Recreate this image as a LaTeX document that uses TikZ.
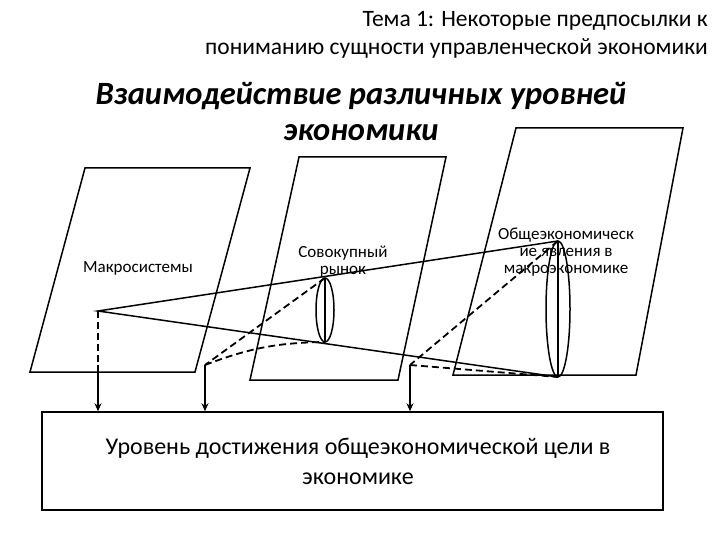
\documentclass[tikz,border=0pt]{standalone}
\usepackage{fontspec}
\usetikzlibrary{arrows.meta}
\setmainfont{Carlito}
\begin{document}
\begin{tikzpicture}[x=1pt,y=-1pt,
  plane/.style={draw,line width=1.5pt,fill=white},
  lbl/.style={font=\fontsize{17}{17}\selectfont,align=center,inner sep=0},
  dsh/.style={line width=1.8pt,dash pattern=on 7pt off 4pt},
  arr/.style={line width=1.6pt,-{Stealth[length=8pt,width=7pt]}},
  ln/.style={line width=1.5pt}]
\useasboundingbox (0,0) rectangle (720,540);
\node[anchor=east,align=right,font=\fontsize{23.5}{28}\selectfont,inner sep=0] (t) at (708,35) {Тема 1: Некоторые предпосылки к\\пониманию сущности управленческой экономики};
\node[align=center,font=\fontsize{32.5}{36}\bfseries\itshape\selectfont,inner sep=0] (h) at (361,112) {Взаимодействие различных уровней\\экономики};
\draw[plane] (85,168) -- (250,168) -- (195,372) -- (30,372) -- cycle;
\draw[plane] (299,157) -- (446,157) -- (398,380) -- (250,380) -- cycle;
\draw[plane] (516,128) -- (683,128) -- (636,375) -- (453,375) -- cycle;
\node[lbl] (m) at (138,268) {Макросистемы};
\node[lbl] (s) at (343,262) {Совокупный\\рынок};
\node[lbl] (o) at (566,252) {Общеэкономическ\\ие явления в\\макроэкономике};
\coordinate (A) at (98,311);
\coordinate (BT) at (558,241);
\coordinate (BB) at (558,377);
\coordinate (ST) at (325,278);
\coordinate (SB) at (325,342);
\draw[ln] (BT) -- (A) -- (BB);
\draw[ln] (325,310) ellipse [x radius=9,y radius=32];
\draw[ln] (ST) -- (SB);
\draw[ln] (558,309) ellipse [x radius=12,y radius=68];
\draw[ln] (BT) -- (BB);
\coordinate (P1) at (98,365);
\coordinate (P2) at (205,365);
\coordinate (P3) at (410,365);
\node[draw,line width=1.5pt,minimum width=621,minimum height=98,inner sep=0] (box) at (352.5,461) {};
\node[font=\fontsize{24}{30}\selectfont,align=center] (bt) at (358,461) {Уровень достижения общеэкономической цели в\\экономике};
\draw[dsh] (A) -- (P1);
\draw[dsh] (ST) -- (P2);
\draw[dsh] (P2) to[bend left=10] (SB);
\draw[dsh] (BT) -- (P3);
\draw[dsh] (P3) -- (BB);
\draw[arr] (P1) -- (P1 |- box.north);
\draw[arr] (P2) -- (P2 |- box.north);
\draw[arr] (P3) -- (P3 |- box.north);
\end{tikzpicture}
\end{document}
